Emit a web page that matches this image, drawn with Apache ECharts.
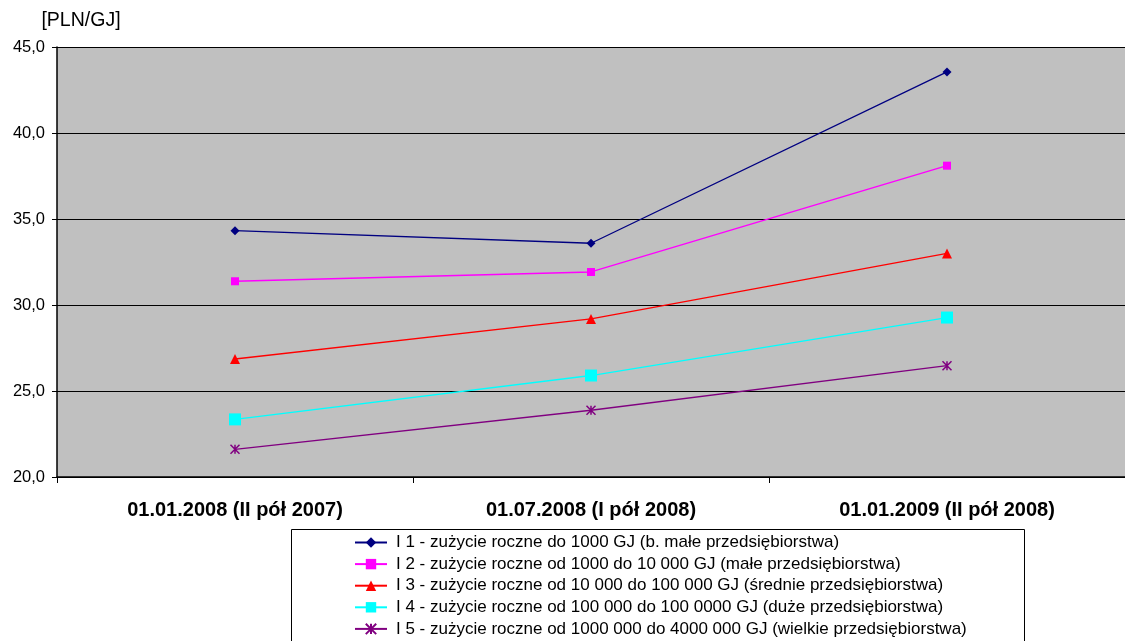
<!DOCTYPE html>
<html><head><meta charset="utf-8">
<script src="https://cdn.jsdelivr.net/npm/echarts@6/dist/echarts.min.js"></script>
<style>html,body{margin:0;padding:0;background:#fff}#c{width:1125px;height:641px}</style>
</head><body><div id="c"></div>
<script>
const categories = ['01.01.2008 (II pół 2007)', '01.07.2008 (I pół 2008)', '01.01.2009 (II pół 2008)'];
const seriesNames = [
  'I 1 - zużycie roczne do 1000 GJ (b. małe przedsiębiorstwa)',
  'I 2 - zużycie roczne od 1000 do 10 000 GJ (małe przedsiębiorstwa)',
  'I 3 - zużycie roczne od 10 000 do 100 000 GJ (średnie przedsiębiorstwa)',
  'I 4 - zużycie roczne od 100 000 do 100 0000 GJ (duże przedsiębiorstwa)',
  'I 5 - zużycie roczne od 1000 000 do 4000 000 GJ (wielkie przedsiębiorstwa)'
];
const i1 = [34.32, 33.59, 43.55];
const i2 = [31.38, 31.92, 38.10];
const i3 = [26.86, 29.19, 33.00];
const i4 = [23.35, 25.90, 29.27];
const i5 = [21.61, 23.88, 26.47];
const yTicks = { min: 20, max: 45, interval: 5 };

const FONT = 'Liberation Sans, Arial, sans-serif';
const asterisk = 'path://M0,0L10,10M10,0L0,10M5,0L5,10';
const styles = [
  { color: '#000080', symbol: 'diamond', size: 9 },
  { color: '#FF00FF', symbol: 'rect', size: 8 },
  { color: '#FF0000', symbol: 'triangle', size: 10 },
  { color: '#00FFFF', symbol: 'rect', size: 12 },
  { color: '#800080', symbol: asterisk, size: 9 }
];
const data = [i1, i2, i3, i4, i5];

const chart = echarts.init(document.getElementById('c'));
chart.setOption({
  animation: false,
  backgroundColor: '#ffffff',
  textStyle: { fontFamily: FONT },
  grid: { left: 57, top: 47, width: 1075, bottom: 164, show: true, backgroundColor: '#C0C0C0', borderWidth: 0 },
  graphic: [{
    type: 'rect', left: 291, top: 529, z: 0,
    shape: { width: 733, height: 120 },
    style: { fill: '#ffffff', stroke: '#000000', lineWidth: 1 }
  }],
  legend: {
    orient: 'vertical', left: 349, top: 529, height: 300, z: 5,
    itemWidth: 32, itemHeight: 13, itemGap: 4.6,
    textStyle: { fontFamily: FONT, fontSize: 17, color: '#000', padding: [0, 0, 0, 4] },
    data: seriesNames
  },
  xAxis: {
    type: 'category', data: categories, boundaryGap: true,
    axisLine: { lineStyle: { color: '#000', width: 1.5 } },
    axisTick: { show: true, alignWithLabel: false, length: 6, lineStyle: { color: '#000' } },
    axisLabel: { fontFamily: FONT, fontSize: 20, fontWeight: 'bold', color: '#000', margin: 23 }
  },
  yAxis: {
    type: 'value', min: yTicks.min, max: yTicks.max, interval: yTicks.interval,
    name: '[PLN/GJ]', nameLocation: 'end', nameGap: 16,
    nameTextStyle: { fontFamily: FONT, fontSize: 19.5, color: '#000', align: 'center', padding: [0, 0, 0, 48] },
    axisLine: { show: true, lineStyle: { color: '#000', width: 1.5 } },
    axisTick: { show: true, length: 5, lineStyle: { color: '#000' } },
    axisLabel: { fontFamily: FONT, fontSize: 16.5, color: '#000', margin: 12,
      formatter: v => v.toFixed(1).replace('.', ',') },
    splitLine: { lineStyle: { color: '#000', width: 1 } }
  },
  series: data.map((d, k) => ({
    name: seriesNames[k], type: 'line', data: d,
    symbol: styles[k].symbol, symbolSize: styles[k].size, showSymbol: true,
    lineStyle: { color: styles[k].color, width: 1.3 },
    itemStyle: { color: styles[k].color, borderColor: styles[k].color, borderWidth: k === 4 ? 1.5 : 0 }
  }))
});
</script></body></html>
